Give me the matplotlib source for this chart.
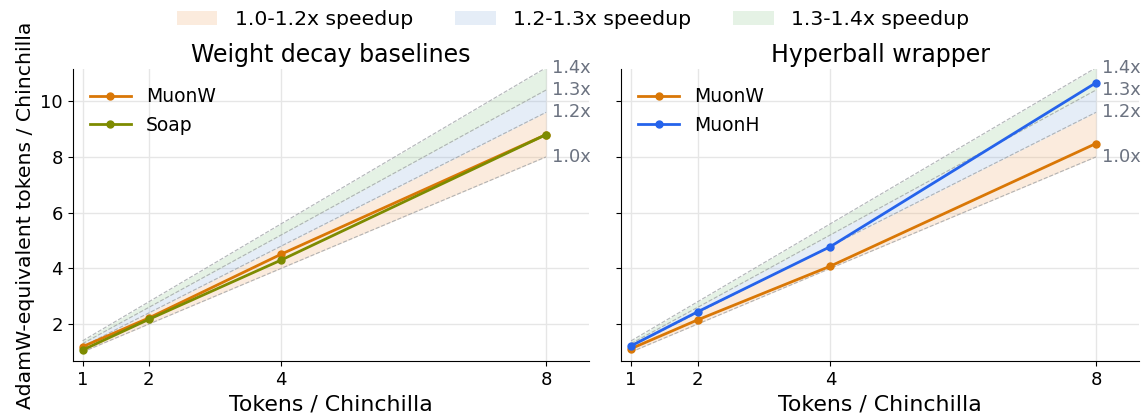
import matplotlib.pyplot as plt
from matplotlib.patches import Patch
import numpy as np

# data
tokens = [1, 2, 4, 8]
left_muonw = [1.19, 2.22, 4.51, 8.80]
left_soap = [1.07, 2.17, 4.30, 8.80]
right_muonw = [1.12, 2.15, 4.08, 8.48]
right_muonh = [1.22, 2.44, 4.78, 10.66]

band_edges = [1.0, 1.2, 1.3, 1.4]
band_names = ['1.0-1.2x speedup', '1.2-1.3x speedup', '1.3-1.4x speedup']
band_colors = ['#f0a868', '#7fa8d8', '#8cc48c']
band_alpha = [0.22, 0.2, 0.22]

c_muonw = '#d97706'
c_soap = '#7d8b00'
c_muonh = '#2563eb'
c_label = '#6b7280'


def draw_bands(ax):
    xs = np.array([tokens[0], tokens[-1]], dtype=float)
    for i in range(3):
        ax.fill_between(xs, band_edges[i] * xs, band_edges[i + 1] * xs,
                        color=band_colors[i], alpha=band_alpha[i], lw=0, zorder=1)
    for k in band_edges:
        ax.plot(xs, k * xs, color='#a0a4a8', lw=0.8, ls='--', alpha=0.8, zorder=2)
        ax.annotate(f'{k:.1f}x', xy=(xs[-1], k * xs[-1]), xytext=(4, 0),
                    textcoords='offset points', ha='left', va='center',
                    fontsize=12.8, color=c_label, annotation_clip=False)


def style(ax, title):
    ax.set_title(title, fontsize=17, pad=5)
    ax.set_xticks(tokens)
    ax.set_xticklabels([str(t) for t in tokens])
    ax.set_xlim(0.85, 8.65)
    ax.set_ylim(0.67, 11.15)
    ax.set_yticks([2, 4, 6, 8, 10])
    ax.set_xlabel('Tokens / Chinchilla', fontsize=15.8)
    ax.grid(True, color='#e6e6e6', lw=1, zorder=0)
    ax.set_axisbelow(True)
    ax.spines['top'].set_visible(False)
    ax.spines['right'].set_visible(False)
    ax.tick_params(labelsize=13)
    ax.legend(loc='upper left', frameon=False, fontsize=13.5, handlelength=2.2,
              bbox_to_anchor=(0.0, 0.995))


fig = plt.figure(figsize=(11.46, 4.19), dpi=100)
ax1 = fig.add_axes([0.0634, 0.138, 0.4506, 0.697])
ax2 = fig.add_axes([0.542, 0.138, 0.452, 0.697], sharey=ax1)

draw_bands(ax1)
ax1.plot(tokens, left_muonw, color=c_muonw, lw=2, marker='o', ms=5, label='MuonW', zorder=3)
ax1.plot(tokens, left_soap, color=c_soap, lw=2, marker='o', ms=5, label='Soap', zorder=3)
style(ax1, 'Weight decay baselines')
ax1.set_ylabel('AdamW-equivalent tokens / Chinchilla', fontsize=14.7)

draw_bands(ax2)
ax2.plot(tokens, right_muonw, color=c_muonw, lw=2, marker='o', ms=5, label='MuonW', zorder=3)
ax2.plot(tokens, right_muonh, color=c_muonh, lw=2, marker='o', ms=5, label='MuonH', zorder=3)
style(ax2, 'Hyperball wrapper')
ax2.tick_params(labelleft=False)

handles = [Patch(facecolor=band_colors[i], alpha=band_alpha[i], edgecolor='none')
           for i in range(3)]
fig.legend(handles, band_names, loc='upper center', bbox_to_anchor=(0.5, 1.02),
           ncol=3, frameon=False, fontsize=14.7, handlelength=2.0, handletextpad=0.85,
           columnspacing=2.05)

fig.savefig('out.png', dpi=100)
